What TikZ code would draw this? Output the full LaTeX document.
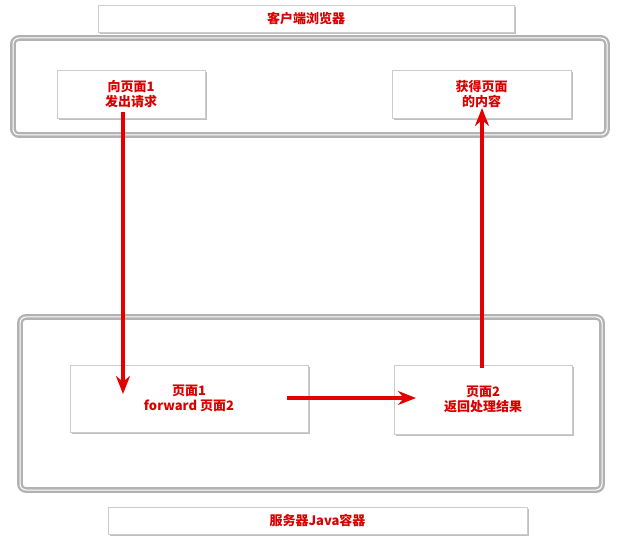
\documentclass[tikz,border=0pt]{standalone}
\usepackage{fontspec}
\newfontfamily\cjk{Noto Sans CJK SC}
\usetikzlibrary{shadows,arrows.meta}
\begin{document}
\begin{tikzpicture}[x=1pt,y=-1pt,
  card/.style={draw=gray!40,fill=white,drop shadow={shadow xshift=2pt,shadow yshift=-2pt,opacity=0.5},font=\cjk\bfseries\fontsize{13}{15}\selectfont,text=red!85!black,align=center,inner sep=0pt},
  frame/.style={draw=gray!60,fill=white,line width=2.4pt,rounded corners=6pt,double=white,double distance=1pt,drop shadow={shadow xshift=2pt,shadow yshift=-2pt,opacity=0.4}},
  flow/.style={red!90!black,line width=3.2pt,-{Stealth[length=18pt,width=14pt]}}]
\useasboundingbox (0,0) rectangle (619,540);
\node[frame,minimum width=594,minimum height=97] (top) at (310,86.5) {};
\node[frame,minimum width=582,minimum height=173] (bot) at (311,403.5) {};
\node[card,minimum width=416,minimum height=27] (t) at (306,18.5) {客户端浏览器};
\node[card,minimum width=419,minimum height=27] (b) at (317.5,520.5) {服务器Java容器};
\node[card,minimum width=148,minimum height=48] (a) at (131,94) {向页面1\\发出请求};
\node[card,minimum width=179,minimum height=48] (g) at (481.5,94) {获得页面\\的内容};
\node[card,minimum width=238,minimum height=67] (p1) at (189,398.5) {页面1\\forward 页面2};
\node[card,minimum width=178,minimum height=69] (p2) at (483,399.5) {页面2\\返回处理结果};
\coordinate (a1) at (123,112);
\coordinate (a2) at (123,394);
\coordinate (f1) at (287,398);
\coordinate (f2) at (416,398);
\coordinate (r1) at (482,368);
\coordinate (r2) at (482,108);
\draw[flow] (a1) -- (a2);
\draw[flow] (f1) -- (f2);
\draw[flow] (r1) -- (r2);
\end{tikzpicture}
\end{document}
